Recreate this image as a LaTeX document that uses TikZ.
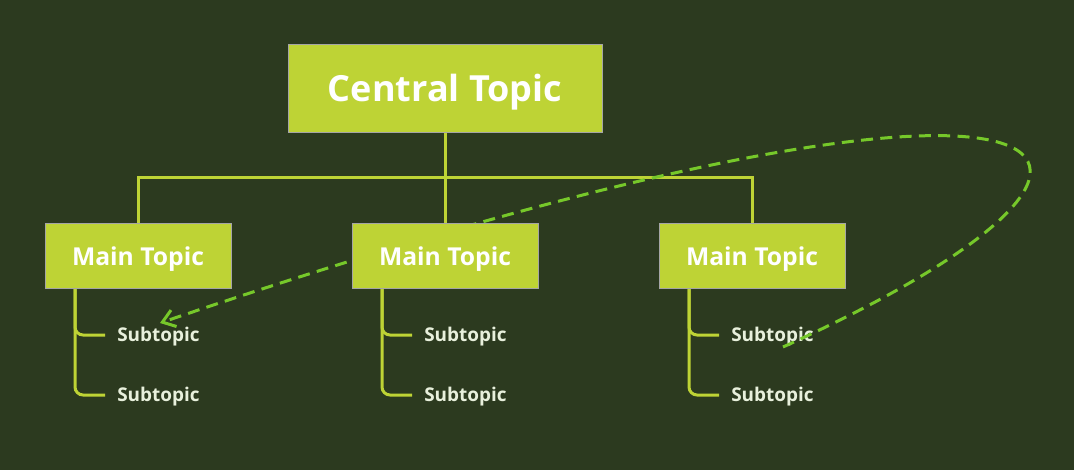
\documentclass[tikz,border=0pt]{standalone}
\usepackage{fontspec}
\setmainfont{Open Sans}
\usetikzlibrary{arrows.meta}
\definecolor{bgc}{RGB}{44,58,31}
\definecolor{lime}{RGB}{190,211,53}
\definecolor{dashc}{RGB}{118,200,42}
\definecolor{subc}{RGB}{232,240,220}
\definecolor{edgegray}{RGB}{165,165,165}
\begin{document}
\begin{tikzpicture}[x=0.75pt,y=-0.75pt,
  central/.style={fill=lime, draw=edgegray, line width=0.75pt, inner sep=0pt,
    minimum width=235.5pt, minimum height=66pt, text=white,
    text height=19.3pt, text depth=0pt,
    font=\bfseries\fontsize{27}{32}\selectfont},
  maintopic/.style={fill=lime, draw=edgegray, line width=0.75pt, inner sep=0pt,
    minimum width=139.5pt, minimum height=48.75pt, text=white,
    text height=13.2pt, text depth=0pt,
    font=\bfseries\fontsize{18.5}{22}\selectfont},
  subtopic/.style={anchor=west, inner sep=0pt, text=subc,
    text height=10.1pt, text depth=0pt,
    font=\bfseries\fontsize{14.2}{17}\selectfont},
  conn/.style={draw=lime, line width=2.25pt},
  branch/.style={conn, rounded corners=6pt},
  dashline/.style={draw=dashc, line width=2.25pt, dash pattern=on 9pt off 5.5pt,
    -{Straight Barb[length=9pt,width=13pt]}}
]
\useasboundingbox (0,0) rectangle (1074,470);
\fill[bgc] (0,0) rectangle (1074,470);

% subtopic texts
\node[subtopic] (s1a) at (117,335) {Subtopic};
\node[subtopic] (s1b) at (117,395) {Subtopic};
\node[subtopic] (s2a) at (424,335) {Subtopic};
\node[subtopic] (s2b) at (424,395) {Subtopic};
\node[subtopic] (s3a) at (731,335) {Subtopic};
\node[subtopic] (s3b) at (731,395) {Subtopic};

% connector coordinates
\coordinate (hb) at (445,178);
\coordinate (ds) at (783,347);
\coordinate (de) at (160,323);

% tree connectors
\draw[conn] (445,133) -- (445,224);
\draw[conn] (138,224) |- (hb) -| (752,224);

% subtopic branches
\draw[branch] (75,289) coordinate (b1) |- ([xshift=-9pt]s1a.west);
\draw[branch] (b1) |- ([xshift=-9pt]s1b.west);
\draw[branch] (382,289) coordinate (b2) |- ([xshift=-9pt]s2a.west);
\draw[branch] (b2) |- ([xshift=-9pt]s2b.west);
\draw[branch] (689,289) coordinate (b3) |- ([xshift=-9pt]s3a.west);
\draw[branch] (b3) |- ([xshift=-9pt]s3b.west);

% dashed relation
\draw[dashline] (ds) .. controls (1240,140) and (1080,10) .. (de);

% topics
\node[central] (c) at (445,89) {Central Topic};
\node[maintopic] (m1) at (138,256.5) {Main Topic};
\node[maintopic] (m2) at (445,256.5) {Main Topic};
\node[maintopic] (m3) at (752,256.5) {Main Topic};
\end{tikzpicture}
\end{document}
